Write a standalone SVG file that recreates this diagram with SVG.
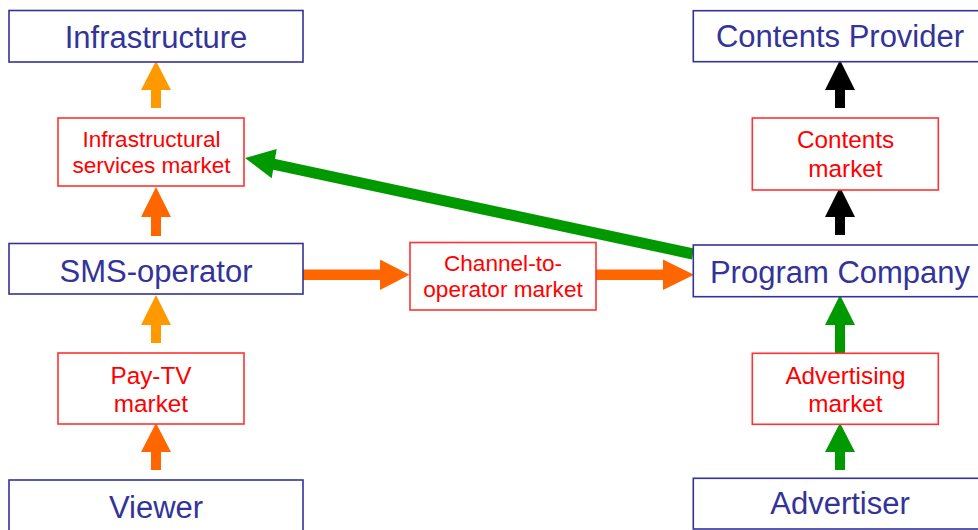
<svg xmlns="http://www.w3.org/2000/svg" width="978" height="530" viewBox="0 0 978 530">
<style>
.actor rect{fill:#fff;stroke:#333399;stroke-width:1.6}
.actor text{fill:#333399;font-family:"Liberation Sans",Arial,sans-serif;font-size:31px;text-anchor:middle}
.market rect{fill:#fff;stroke:#ff3333;stroke-width:1.6}
.market text{fill:#ff0000;font-family:"Liberation Sans",Arial,sans-serif;font-size:24.3px;text-anchor:middle}
.market text.s{font-size:22.6px}
.lo{fill:#ff9900}
.dk{fill:#ff6600}
.bk{fill:#000000}
.gr{fill:#009900}
</style>
<rect width="978" height="530" fill="#fff"/>
<g id="connectors">
<path class="lo" d="M156,61 L171,90 L161,90 L161,108 L151,108 L151,90 L141,90 Z"/>
<path class="dk" d="M156,187 L171,217 L161,217 L161,236 L151,236 L151,217 L141,217 Z"/>
<path class="lo" d="M156,295 L171,325 L161,325 L161,343 L151,343 L151,325 L141,325 Z"/>
<path class="dk" d="M156,423 L171,452 L161,452 L161,470 L151,470 L151,452 L141,452 Z"/>
<path class="bk" d="M840,60 L855,90 L845,90 L845,108 L835,108 L835,90 L825,90 Z"/>
<path class="bk" d="M840,187 L855,217 L845,217 L845,235 L835,235 L835,217 L825,217 Z"/>
<path class="gr" d="M840,295 L855,325 L845,325 L845,353 L835,353 L835,325 L825,325 Z"/>
<path class="gr" d="M840,423 L855,452 L845,452 L845,470 L835,470 L835,452 L825,452 Z"/>
<path class="dk" d="M409.5,274.7 L380,259.5 L380,269.5 L303,269.5 L303,280 L380,280 L380,290 Z"/>
<path class="dk" d="M694,274.7 L663,259.5 L663,269.5 L596,269.5 L596,280 L663,280 L663,290 Z"/>
<line x1="693" y1="254" x2="272" y2="163.8" stroke="#009900" stroke-width="11"/>
<path class="gr" d="M245,158 L276.7,149 L271.7,178.3 Z"/>
</g>
<g id="infrastructure" class="actor"><rect x="9" y="10.5" width="294" height="51.5"/><text x="156" y="48">Infrastructure</text></g>
<g id="infra-market" class="market"><rect x="58" y="118" width="186" height="68"/><text class="s" x="151.5" y="147">Infrastructural</text><text class="s" x="151.5" y="173">services market</text></g>
<g id="sms-operator" class="actor"><rect x="9" y="243.5" width="294" height="50.5"/><text x="156" y="282">SMS-operator</text></g>
<g id="paytv-market" class="market"><rect x="58" y="353" width="186" height="71"/><text x="151" y="384">Pay-TV</text><text x="151" y="411.7">market</text></g>
<g id="viewer" class="actor"><rect x="9" y="480" width="294" height="60"/><text x="156" y="517.5">Viewer</text></g>
<g id="channel-market" class="market"><rect x="410" y="242.5" width="186" height="67.5"/><text class="s" x="503" y="270.7">Channel-to-</text><text class="s" x="503" y="296.7">operator market</text></g>
<g id="contents-provider" class="actor"><rect x="693.3" y="10.7" width="294" height="51"/><text x="840" y="47">Contents Provider</text></g>
<g id="contents-market" class="market"><rect x="752.3" y="118" width="186" height="72"/><text x="845.5" y="148.3">Contents</text><text x="845.5" y="176.7">market</text></g>
<g id="program-company" class="actor"><rect x="693.3" y="245" width="294" height="51.7"/><text x="840" y="283.3">Program Company</text></g>
<g id="advertising-market" class="market"><rect x="752.3" y="353.3" width="186" height="71"/><text x="845.5" y="384">Advertising</text><text x="845.5" y="411.7">market</text></g>
<g id="advertiser" class="actor"><rect x="693.3" y="478.3" width="294" height="50.7"/><text x="840" y="514.3">Advertiser</text></g>
</svg>
